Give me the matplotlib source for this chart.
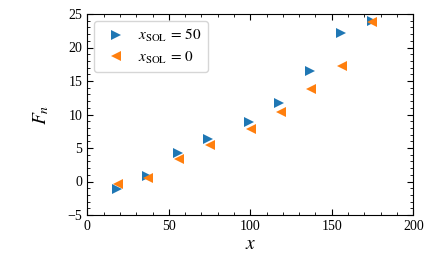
import numpy as np
import matplotlib
matplotlib.use('Agg')
import matplotlib.pyplot as plt

plt.rcParams['font.family'] = 'serif'
plt.rcParams['font.serif'] = ['Liberation Serif', 'DejaVu Serif']
plt.rcParams['mathtext.fontset'] = 'stix'

x_sol50 = [18.0, 36.4, 55.4, 74.2, 99.4, 117.8, 136.6, 155.6, 174.5]
F_sol50 = [-1.1, 0.75, 4.2, 6.3, 8.85, 11.7, 16.45, 22.2, 24.0]
x_sol0 = [19.0, 37.4, 56.3, 75.3, 100.2, 118.8, 137.2, 156.3, 174.8]
F_sol0 = [-0.4, 0.45, 3.4, 5.4, 7.8, 10.3, 13.8, 17.2, 23.8]

fig = plt.figure(figsize=(4.35, 2.69), dpi=100)
ax = fig.add_axes([87.3/435, 1 - 215/269, 326/435, 201/269])

ax.plot(x_sol50, F_sol50, '>', color='#1f77b4', ms=7, mew=0, label=r'$x_{\mathrm{SOL}}\,=\,50$')
ax.plot(x_sol0, F_sol0, '<', color='#ff7f0e', ms=7, mew=0, label=r'$x_{\mathrm{SOL}}\,=\,0$')

ax.set_xlim(0, 200)
ax.set_ylim(-5, 25)
ax.set_xticks([0, 50, 100, 150, 200])
ax.set_yticks([-5, 0, 5, 10, 15, 20, 25])
ax.set_xticks(np.arange(0, 201, 10), minor=True)
ax.set_yticks(np.arange(-5, 26, 1), minor=True)
ax.tick_params(which='both', direction='in', top=True, right=True, labelsize=10)
ax.tick_params(which='major', length=4)
ax.tick_params(which='minor', length=2)
ax.set_xlabel('$x$', fontsize=14, labelpad=2)
ax.set_ylabel('$F_n$', fontsize=14, labelpad=12)
ax.legend(loc='upper left', fontsize=11, handletextpad=0.5,
          borderaxespad=0.45, labelspacing=0.35, borderpad=0.4)

fig.savefig('out.png', dpi=100)
